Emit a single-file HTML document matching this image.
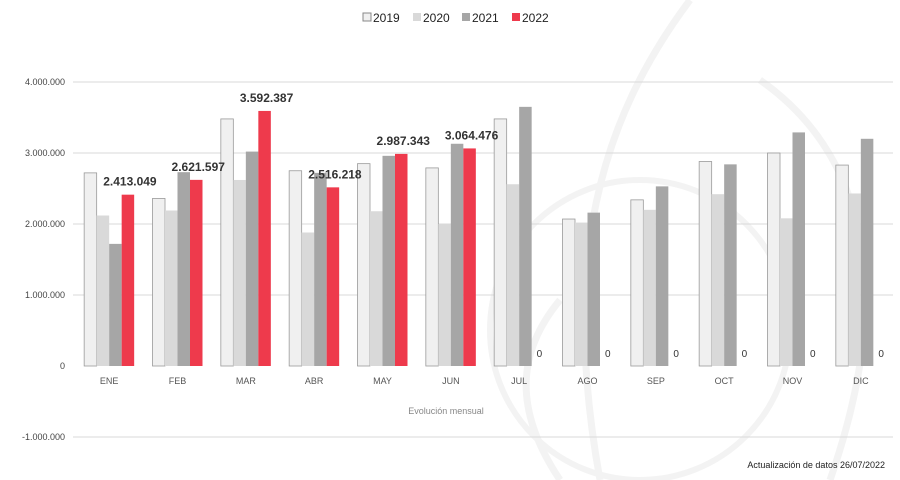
<!DOCTYPE html>
<html><head><meta charset="utf-8"><style>
html,body{margin:0;padding:0;background:#fff;}
svg{display:block;font-family:"Liberation Sans",sans-serif;}
</style></head><body>
<svg id="chart" width="900" height="480">
<g fill="none" stroke="#f3f3f3" stroke-width="7">
<path d="M690 0 C600 120 560 260 600 480"/>
<path d="M560 480 C520 420 510 360 560 300"/>
<circle cx="640" cy="330" r="150" stroke-width="6"/>
<path d="M760 80 C860 150 900 280 830 480"/>
</g>
<g id="grid"></g><g id="bars"></g><g id="labels"></g>
<g font-size="12" fill="#222">
<rect x="363" y="13" width="8" height="8" fill="#f0f0f0" stroke="#888"/><text x="373" y="22">2019</text>
<rect x="413" y="13" width="8" height="8" fill="#d9d9d9"/><text x="423" y="22">2020</text>
<rect x="462" y="13" width="8" height="8" fill="#a6a6a6"/><text x="472" y="22">2021</text>
<rect x="512" y="13" width="8" height="8" fill="#ee3a4c"/><text x="522" y="22">2022</text>
</g>
<text x="446" y="414" font-size="9" fill="#888" text-anchor="middle">Evolución mensual</text>
<text x="885" y="468" font-size="9" fill="#222" text-anchor="end">Actualización de datos 26/07/2022</text>
</svg>
<script>
const categories=["ENE","FEB","MAR","ABR","MAY","JUN","JUL","AGO","SEP","OCT","NOV","DIC"];
const values2019=[2720000,2360000,3480000,2750000,2850000,2790000,3480000,2070000,2340000,2880000,3000000,2830000];
const values2020=[2120000,2190000,2620000,1880000,2180000,2000000,2560000,2020000,2200000,2420000,2080000,2430000];
const values2021=[1720000,2730000,3020000,2720000,2960000,3130000,3650000,2160000,2530000,2840000,3290000,3200000];
const values2022=[2413049,2621597,3592387,2516218,2987343,3064476,0,0,0,0,0,0];
const tickValues=[4000000,3000000,2000000,1000000,0,-1000000];
const tickLabels=["4.000.000","3.000.000","2.000.000","1.000.000","0","-1.000.000"];
const NS="http://www.w3.org/2000/svg";
const y=v=>366-v*71/1000000;
const x0=75,slot=820/12,bw=12.5;
const x=i=>x0+i*slot;
function mk(t,a,p){const e=document.createElementNS(NS,t);for(const k in a)e.setAttribute(k,a[k]);p.appendChild(e);return e;}
const grid=document.getElementById('grid'),bars=document.getElementById('bars'),labels=document.getElementById('labels');
tickValues.forEach((v,i)=>{
 if(v!==0){const l=mk('line',{x1:73,x2:893,y1:y(v),y2:y(v),stroke:'#d9d9d9','stroke-width':1},grid);
 
 }
 const t=mk('text',{x:65,y:y(v)+3,'font-size':9,fill:'#444','text-anchor':'end'},grid);t.textContent=tickLabels[i];
 
 
});
const series=[[values2019,'#f0f0f0','#9a9a9a','2019'],[values2020,'#d9d9d9','none','2020'],[values2021,'#a6a6a6','none','2021'],[values2022,'#ee3a4c','none','2022']];
categories.forEach((c,i)=>{
 const gx=x(i)+(slot-50)/2;
 series.forEach((s,j)=>{
  const v=s[0][i];
  const r=mk('rect',{x:gx+j*bw,y:y(v),width:bw,height:Math.max(0,y(0)-y(v)),fill:s[1],stroke:s[2],'stroke-width':0.8},bars);
  
  
 });
 const v=values2022[i];
 const lt=mk('text',{x:v>0?gx+3*bw+bw/2+2:gx+3*bw+5,y:v>0?y(v)-9:y(0)-9,'font-size':v>0?12:10,fill:'#333','text-anchor':v>0?'middle':'start','font-weight':v>0?'bold':'normal'},labels);
 lt.textContent=v.toLocaleString('de-DE');
 
 
 const t=mk('text',{x:x(i)+slot/2,y:384,'font-size':9,fill:'#555','text-anchor':'middle'},labels);t.textContent=c;
 
 
});
</script>
</body></html>
